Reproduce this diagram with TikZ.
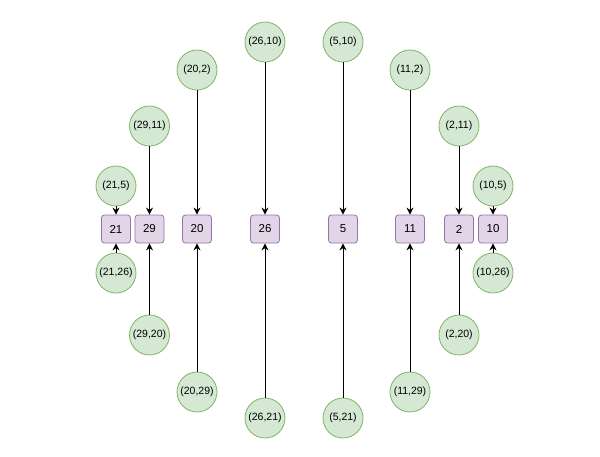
\documentclass[tikz,border=0pt]{standalone}
\usepackage{fontspec}
\setmainfont{Liberation Sans}
\usetikzlibrary{arrows.meta}
\begin{document}
\begin{tikzpicture}[x=1pt,y=-1pt]
\definecolor{vpurple}{HTML}{9673A6}
\definecolor{vfill}{HTML}{E1D5E7}
\definecolor{gline}{HTML}{82B366}
\definecolor{gfill}{HTML}{D5E8D4}
\tikzset{
  pair/.style={circle,draw=gline,fill=gfill,minimum size=40pt,inner sep=0pt,font=\fontsize{10.5}{12}\selectfont,line width=0.8pt},
  vert/.style={rounded corners=3pt,draw=vpurple,fill=vfill,minimum width=29pt,minimum height=28pt,inner sep=0pt,font=\fontsize{11.5}{13}\selectfont,line width=0.8pt},
  conn/.style={-{Stealth[length=7pt,width=7pt]},line width=1pt}
}
\useasboundingbox (0,0) rectangle (600,456);
% vertices
\node[vert] (v21) at (116,229) {21};
\node[vert] (v29) at (149.5,229) {29};
\node[vert] (v20) at (197,229) {20};
\node[vert] (v26) at (265,229) {26};
\node[vert] (v5) at (343,229) {5};
\node[vert] (v11) at (410,229) {11};
\node[vert] (v2) at (459,229) {2};
\node[vert] (v10) at (493,229) {10};
% top pairs
\node[pair] (a21) at (116,186) {(21,5)};
\node[pair] (a29) at (149.5,126) {(29,11)};
\node[pair] (a20) at (197,70) {(20,2)};
\node[pair] (a26) at (265,42) {(26,10)};
\node[pair] (a5) at (343,42) {(5,10)};
\node[pair] (a11) at (410,70) {(11,2)};
\node[pair] (a2) at (459,126) {(2,11)};
\node[pair] (a10) at (493,186) {(10,5)};
% bottom pairs
\node[pair] (b21) at (116,273) {(21,26)};
\node[pair] (b29) at (149.5,335) {(29,20)};
\node[pair] (b20) at (197,392) {(20,29)};
\node[pair] (b26) at (265,418) {(26,21)};
\node[pair] (b5) at (343,418) {(5,21)};
\node[pair] (b11) at (410,392) {(11,29)};
\node[pair] (b2) at (459,335) {(2,20)};
\node[pair] (b10) at (493,273) {(10,26)};
% connectors
\foreach \v in {21,29,20,26,5,11,2,10}{
  \draw[conn] (a\v) -- (v\v);
  \draw[conn] (b\v) -- (v\v);
}
\end{tikzpicture}
\end{document}
